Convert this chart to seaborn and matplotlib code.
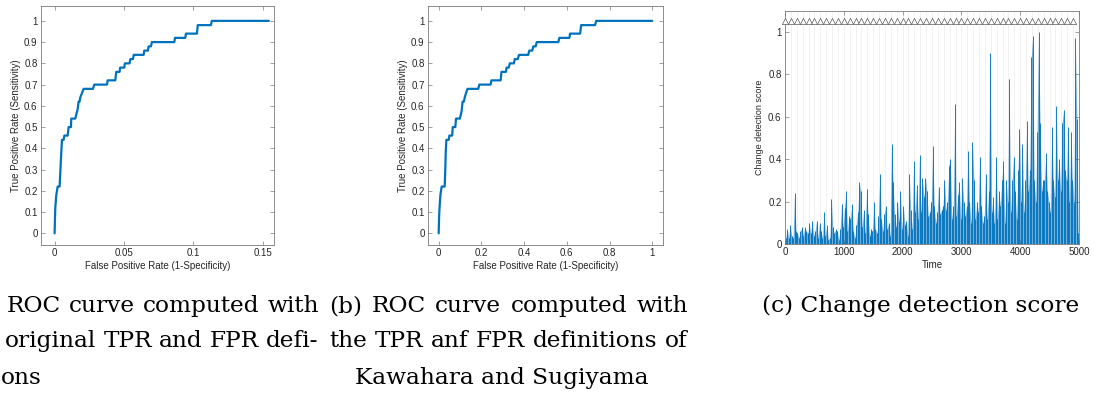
import numpy as np
import pandas as pd
import matplotlib
matplotlib.use("Agg")
import matplotlib.pyplot as plt
from matplotlib.ticker import FuncFormatter
import seaborn as sns

# ---- ROC curve vertices, original TPR/FPR definitions ----
fpr_original = [0.0, 0.0003, 0.0005, 0.0012, 0.0022, 0.0036, 0.0042, 0.0048, 0.0053, 0.0065,
                0.0070, 0.0094, 0.0101, 0.0118, 0.0120, 0.0149, 0.0156, 0.0165, 0.0173, 0.0180,
                0.0185, 0.0197, 0.0209, 0.0276, 0.0286, 0.0377, 0.0382, 0.0437, 0.0444, 0.0468,
                0.0472, 0.0502, 0.0506, 0.0540, 0.0545, 0.0564, 0.0570, 0.0641, 0.0646, 0.0672,
                0.0677, 0.0694, 0.0700, 0.0862, 0.0867, 0.0941, 0.0946, 0.1025, 0.1031, 0.1126,
                0.1132, 0.1543]
tpr_original = [0.0, 0.08, 0.12, 0.18, 0.22, 0.22, 0.30, 0.38, 0.44, 0.44,
                0.46, 0.46, 0.50, 0.50, 0.54, 0.54, 0.56, 0.58, 0.62, 0.62,
                0.64, 0.66, 0.68, 0.68, 0.70, 0.70, 0.72, 0.72, 0.76, 0.76,
                0.78, 0.78, 0.80, 0.80, 0.82, 0.82, 0.84, 0.84, 0.86, 0.86,
                0.88, 0.88, 0.90, 0.90, 0.92, 0.92, 0.94, 0.94, 0.98, 0.98,
                1.0, 1.0]

# ---- ROC curve vertices, Kawahara & Sugiyama definitions ----
fpr_kawahara = [0.0, 0.002, 0.004, 0.008, 0.014, 0.028, 0.031, 0.033, 0.036, 0.047,
                0.050, 0.063, 0.066, 0.078, 0.081, 0.099, 0.104, 0.108, 0.112, 0.118,
                0.122, 0.128, 0.135, 0.185, 0.190, 0.243, 0.247, 0.290, 0.294, 0.315,
                0.318, 0.328, 0.333, 0.352, 0.356, 0.370, 0.376, 0.419, 0.424, 0.438,
                0.443, 0.454, 0.459, 0.560, 0.565, 0.612, 0.615, 0.662, 0.667, 0.732,
                0.737, 1.0]
tpr_kawahara = [0.0, 0.08, 0.12, 0.18, 0.22, 0.22, 0.30, 0.38, 0.44, 0.44,
                0.46, 0.46, 0.50, 0.50, 0.54, 0.54, 0.56, 0.58, 0.62, 0.62,
                0.64, 0.66, 0.68, 0.68, 0.70, 0.70, 0.72, 0.72, 0.76, 0.76,
                0.78, 0.78, 0.80, 0.80, 0.82, 0.82, 0.84, 0.84, 0.86, 0.86,
                0.88, 0.88, 0.90, 0.90, 0.92, 0.92, 0.94, 0.94, 0.98, 0.98,
                1.0, 1.0]

# ---- change detection score, one value per 25 time steps ----
score = [
    0.03, 0.07, 0.03, 0.09,  0.04, 0.03, 0.24, 0.06,  0.05, 0.03, 0.06, 0.08,
    0.04, 0.08, 0.06, 0.05,  0.10, 0.05, 0.11, 0.04,  0.06, 0.11, 0.03, 0.10,
    0.06, 0.03, 0.15, 0.04,  0.09, 0.02, 0.03, 0.21,  0.08, 0.05, 0.07, 0.06,
    0.02, 0.07, 0.19, 0.08,  0.17, 0.25, 0.06, 0.13,  0.12, 0.19, 0.06, 0.03,
    0.09, 0.15, 0.29, 0.25,  0.08, 0.16, 0.05, 0.26,  0.14, 0.04, 0.07, 0.06,
    0.20, 0.07, 0.05, 0.13,  0.33, 0.12, 0.06, 0.14,  0.18, 0.07, 0.10, 0.04,
    0.47, 0.29, 0.14, 0.08,  0.20, 0.11, 0.25, 0.07,  0.18, 0.09, 0.11, 0.04,
    0.33, 0.16, 0.07, 0.39,  0.15, 0.28, 0.12, 0.42,  0.15, 0.31, 0.22, 0.31,
    0.25, 0.13, 0.15, 0.20,  0.46, 0.18, 0.10, 0.15,  0.27, 0.14, 0.16, 0.18,
    0.30, 0.16, 0.20, 0.37,  0.40, 0.12, 0.18, 0.66,  0.13, 0.23, 0.29, 0.12,
    0.31, 0.20, 0.13, 0.18,  0.44, 0.20, 0.10, 0.48,  0.30, 0.12, 0.20, 0.15,
    0.41, 0.18, 0.10, 0.13,  0.33, 0.12, 0.25, 0.90,  0.15, 0.22, 0.10, 0.41,
    0.12, 0.25, 0.18, 0.30,  0.39, 0.10, 0.30, 0.20,  0.78, 0.15, 0.30, 0.41,
    0.25, 0.12, 0.35, 0.54,  0.20, 0.47, 0.15, 0.30,  0.58, 0.25, 0.35, 0.88,
    0.98, 0.30, 0.20, 0.53,  1.00, 0.57, 0.25, 0.30,  0.30, 0.43, 0.25, 0.20,
    0.15, 0.55, 0.30, 0.22,  0.65, 0.30, 0.40, 0.25,  0.57, 0.63, 0.35, 0.30,
    0.55, 0.20, 0.53, 0.30,  0.20, 0.97, 0.59, 0.05,
]
score_step = 25
change_points = list(range(0, 5000, 100))

captions = {
    "a": ["ROC curve computed with", "original TPR and FPR defi-", "ons"],
    "b": ["(b) ROC curve computed with", "the TPR anf FPR definitions of", "Kawahara and Sugiyama"],
    "c": ["(c) Change detection score"],
}

# ---------------------------------------------------------------------------
sns.set_theme(style="white")
plt.rcParams["font.family"] = ["Liberation Sans", "DejaVu Sans"]

LINE = "#0072BD"
TEXT = "#262626"
EDGE = "#7a7a7a"

W, H = 1094, 396
fig = plt.figure(figsize=(W / 100, H / 100), dpi=100)


def px_axes(left, top, right, bottom):
    return fig.add_axes([left / W, 1 - bottom / H, (right - left) / W, (bottom - top) / H])


fmt = FuncFormatter(lambda v, _: f"{v:g}")


def style_axes(ax):
    ax.tick_params(direction="in", length=3, width=0.5, colors=EDGE,
                   labelcolor=TEXT, labelsize=7, pad=2.5,
                   top=True, right=True, bottom=True, left=True)
    for s in ax.spines.values():
        s.set_visible(True)
        s.set_color(EDGE)
        s.set_linewidth(0.6)
    ax.xaxis.set_major_formatter(fmt)
    ax.yaxis.set_major_formatter(fmt)


def roc_panel(ax, fpr, tpr, xlim, xticks):
    df = pd.DataFrame({"fpr": fpr, "tpr": tpr})
    sns.lineplot(data=df, x="fpr", y="tpr", sort=False, estimator=None,
                 color=LINE, linewidth=1.6, ax=ax)
    ax.set_xlim(*xlim)
    ax.set_ylim(-0.055, 1.07)
    ax.set_xticks(xticks)
    ax.set_yticks(np.round(np.arange(0, 1.01, 0.1), 1))
    ax.set_xlabel("False Positive Rate (1-Specificity)", fontsize=7, color=TEXT, labelpad=1.5)
    ax.set_ylabel("True Positive Rate (Sensitivity)", fontsize=7, color=TEXT, labelpad=2.5)
    style_axes(ax)


ax_a = px_axes(41, 6, 274, 245)
roc_panel(ax_a, fpr_original, tpr_original, (-0.0098, 0.158), [0, 0.05, 0.1, 0.15])

ax_b = px_axes(428, 6, 663, 245)
roc_panel(ax_b, fpr_kawahara, tpr_kawahara, (-0.05, 1.05), [0, 0.2, 0.4, 0.6, 0.8, 1.0])

# ---- change detection score panel ----
ax_c = px_axes(785, 10.7, 1079, 244)
for cp in change_points[1:]:
    ax_c.axvline(cp, color="#ececec", linewidth=0.5, zorder=0)
t = np.arange(len(score)) * score_step + score_step / 2
ax_c.fill_between(t, 0, score, color=LINE, alpha=0.55, linewidth=0, zorder=1)
ax_c.vlines(t, 0, score, color=LINE, linewidth=0.7, alpha=0.9, zorder=2)
cp_df = pd.DataFrame({"time": change_points, "level": [1.053] * len(change_points)})
sns.scatterplot(data=cp_df, x="time", y="level", marker="^", s=20,
                facecolor="white", edgecolor="#5a5a5a", linewidth=0.5,
                ax=ax_c, zorder=3, clip_on=False)
ax_c.set_xlim(0, 5000)
ax_c.set_ylim(0, 1.1)
ax_c.set_xticks(range(0, 5001, 1000))
ax_c.set_yticks([0, 0.2, 0.4, 0.6, 0.8, 1.0])
ax_c.set_xlabel("Time", fontsize=7, color=TEXT, labelpad=1.5)
ax_c.set_ylabel("Change detection score", fontsize=6.5, color=TEXT, labelpad=3)
style_axes(ax_c)

# ---- captions below the panels ----
cap_font = ["DejaVu Serif"]
renderer = fig.canvas.get_renderer()


def text_width(s, size):
    tt = fig.text(0, 0, s, fontsize=size, family=cap_font)
    w = tt.get_window_extent(renderer).width
    tt.remove()
    return w


# size chosen so the single caption line spans its column width
cap_size = 16.0 * 318 / text_width(captions["c"][0], 16.0)


def put(s, x, y, ha="left"):
    fig.text(x / W, 1 - y / H, s, fontsize=cap_size, family=cap_font,
             color="black", ha=ha, va="center")


def justify(s, x0, x1, y):
    words = s.split()
    widths = [text_width(w_, cap_size) for w_ in words]
    gap = (x1 - x0 - sum(widths)) / (len(words) - 1)
    x = x0
    for w_, wd in zip(words, widths):
        put(w_, x, y)
        x += wd + gap


justify(captions["a"][0], 7, 319, 306)
justify(captions["a"][1], 5, 318, 341)
put(captions["a"][2], 1, 378)
justify(captions["b"][0], 329, 688, 306)
justify(captions["b"][1], 329, 688, 341)
put(captions["b"][2], 502, 378, ha="center")
put(captions["c"][0], 762, 306)

fig.savefig("out.png", dpi=100, facecolor="white")
